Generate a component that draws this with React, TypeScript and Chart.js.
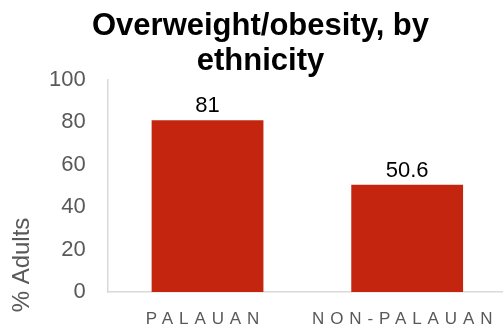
import React, { useEffect, useRef } from "react";
import { Chart, registerables } from "chart.js";

Chart.register(...registerables);

const FONT = "'Liberation Sans', Arial, sans-serif";

const categories = ["PALAUAN", "NON-PALAUAN"];
const adultsPct = [81, 50.6];
const yTicks = [0, 20, 40, 60, 80, 100];
const titleLines = ["Overweight/obesity, by", "ethnicity"];
const yTitle = "% Adults";

const BAR_RED = "#C3250F";
const GREY_TEXT = "#595959";
const AXIS_GREY = "#D9D9D9";

// Draws the title, the rotated axis title, the value labels and spaced category labels.
const annotations = {
  id: "annotations",
  afterDraw(chart: any) {
    const { ctx, scales } = chart;
    const x = scales.x;
    const y = scales.y;
    ctx.save();

    // chart title
    ctx.fillStyle = "#000";
    ctx.font = `bold 31px ${FONT}`;
    ctx.textAlign = "center";
    ctx.textBaseline = "alphabetic";
    ctx.fillText(titleLines[0], 260.5, 35);
    ctx.fillText(titleLines[1], 260.5, 70);

    // y axis title
    ctx.save();
    ctx.translate(22, 265);
    ctx.rotate(-Math.PI / 2);
    ctx.fillStyle = GREY_TEXT;
    ctx.font = `24px ${FONT}`;
    ctx.textAlign = "center";
    ctx.textBaseline = "middle";
    ctx.fillText(yTitle, 0, 0);
    ctx.restore();

    // value labels above bars
    ctx.fillStyle = "#000";
    ctx.font = `22px ${FONT}`;
    ctx.textAlign = "center";
    ctx.textBaseline = "middle";
    adultsPct.forEach((v, i) => {
      ctx.fillText(String(v), x.getPixelForValue(i), y.getPixelForValue(v) - 14);
    });

    // category labels with letter spacing
    ctx.fillStyle = GREY_TEXT;
    ctx.font = `17px ${FONT}`;
    (ctx as any).letterSpacing = "5.9px";
    ctx.textBaseline = "alphabetic";
    categories.forEach((c, i) => {
      ctx.fillText(c, x.getPixelForValue(i) - 2, y.bottom + 32);
    });
    ctx.restore();
  },
};

export default function App() {
  const canvasRef = useRef<HTMLCanvasElement>(null);

  useEffect(() => {
    const canvas = canvasRef.current;
    if (!canvas) return;
    const chart = new Chart(canvas, {
      type: "bar",
      data: {
        labels: categories,
        datasets: [
          {
            data: adultsPct,
            backgroundColor: BAR_RED,
            barPercentage: 0.56,
            categoryPercentage: 1,
          },
        ],
      },
      options: {
        responsive: false,
        animation: false,
        devicePixelRatio: 1,
        layout: { padding: { top: 80, left: 27, right: 0, bottom: 36 } },
        plugins: {
          legend: { display: false },
          title: { display: false },
          tooltip: { enabled: false },
        },
        scales: {
          x: {
            grid: { display: false, drawTicks: false },
            border: { display: true, color: AXIS_GREY, width: 1.5 },
            ticks: { display: false },
          },
          y: {
            min: 0,
            max: 100,
            afterBuildTicks: (scale: any) => {
              scale.ticks = yTicks.map((v) => ({ value: v }));
            },
            grid: { display: false, drawTicks: false },
            border: { display: true, color: AXIS_GREY, width: 1.5 },
            ticks: {
              color: GREY_TEXT,
              font: { family: FONT, size: 22 },
              padding: 22,
            },
          },
        },
      },
      plugins: [annotations],
    });
    return () => chart.destroy();
  }, []);

  return (
    <div
      style={{
        position: "fixed",
        left: 0,
        top: 0,
        width: 503,
        height: 328,
        overflow: "hidden",
        background: "#fff",
      }}
    >
      <canvas ref={canvasRef} width={507} height={328} style={{ display: "block" }} />
    </div>
  );
}
